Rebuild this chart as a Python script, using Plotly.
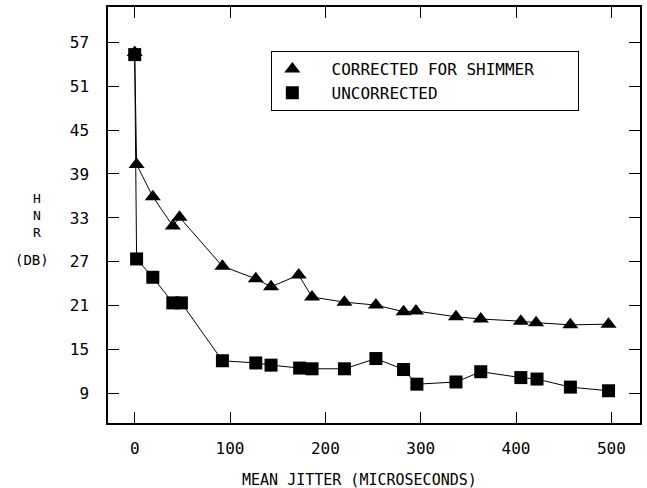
import plotly.graph_objects as go

# Data
jitter_corr = [0, 2, 19, 40, 47, 92, 127, 143, 172, 186, 220, 253, 282, 295, 337, 363, 405, 421, 457, 497]
hnr_corr = [55.6, 40.3, 35.9, 31.9, 33.1, 26.4, 24.7, 23.6, 25.2, 22.2, 21.5, 21.1, 20.2, 20.3, 19.5, 19.2, 18.9, 18.7, 18.4, 18.5]

jitter_unc = [0, 2, 19, 40, 49, 92, 127, 143, 173, 186, 220, 253, 282, 296, 337, 363, 405, 422, 457, 497]
hnr_unc = [55.3, 27.4, 24.9, 21.4, 21.4, 13.5, 13.2, 12.9, 12.5, 12.4, 12.4, 13.8, 12.3, 10.3, 10.6, 12.0, 11.2, 11.0, 9.9, 9.4]

x_ticks = [0, 100, 200, 300, 400, 500]
y_ticks = [9, 15, 21, 27, 33, 39, 45, 51, 57]

FONT = "DejaVu Sans Mono"
NB = "\u00a0"

fig = go.Figure()

fig.add_trace(go.Scatter(x=jitter_corr, y=hnr_corr, mode="lines+markers",
                         line=dict(color="black", width=1),
                         marker=dict(symbol="triangle-up", size=14, color="black"),
                         showlegend=False))
fig.add_trace(go.Scatter(x=jitter_unc, y=hnr_unc, mode="lines+markers",
                         line=dict(color="black", width=1),
                         marker=dict(symbol="square", size=13, color="black"),
                         showlegend=False))
# legend entries (markers only)
fig.add_trace(go.Scatter(x=[None], y=[None], mode="markers",
                         name=NB * 2 + "CORRECTED FOR SHIMMER" + NB * 4,
                         marker=dict(symbol="triangle-up", size=14, color="black")))
fig.add_trace(go.Scatter(x=[None], y=[None], mode="markers",
                         name=NB * 2 + "UNCORRECTED",
                         marker=dict(symbol="square", size=13, color="black")))

axis_common = dict(showline=True, linecolor="black", linewidth=1.5, mirror="ticks",
                   ticks="inside", ticklen=11, tickwidth=1.2, tickcolor="black",
                   showgrid=False, zeroline=False,
                   tickfont=dict(family=FONT, size=16, color="black"))

fig.update_xaxes(range=[-28, 530], tickvals=x_ticks, ticklabelstandoff=10, **axis_common)
fig.update_yaxes(range=[5, 61.8], tickvals=y_ticks, ticklabelstandoff=14, **axis_common)

# title annotations given in pixel positions, converted to paper coordinates below
W, H = 647, 488
L, R, T, B = 108, 5, 7, 65
pw, ph = W - L - R, H - T - B
title_items = [("H<br>N<br>R", 37, 215, 13),
               ("(DB)", 32, 260, 14), ("MEAN JITTER (MICROSECONDS)", 360, 480, 15)]
annotations = [dict(text=t, xref="paper", yref="paper", x=(px - L) / pw, y=1 - (py - T) / ph,
                    xanchor="center", yanchor="middle", showarrow=False, borderpad=0,
                    font=dict(family=FONT, size=s, color="black"))
               for t, px, py, s in title_items]

fig.update_layout(
    width=W, height=H,
    margin=dict(l=L, r=R, t=T, b=B),
    paper_bgcolor="white", plot_bgcolor="white",
    font=dict(family=FONT, size=16, color="black"),
    legend=dict(x=0.307, y=0.894, xanchor="left", yanchor="top",
                bordercolor="black", borderwidth=1, bgcolor="white",
                font=dict(family=FONT, size=16, color="black"),
                tracegroupgap=0, itemwidth=30),
    annotations=annotations,
)

fig.write_html("out.html")
